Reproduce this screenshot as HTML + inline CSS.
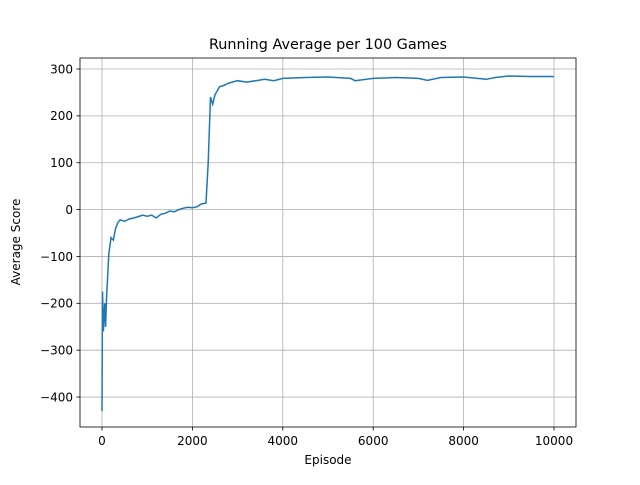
<!DOCTYPE html>
<html><head><meta charset="utf-8"><style>body{margin:0;background:#fff}svg{font-family:"DejaVu Sans","Liberation Sans",sans-serif}</style></head>
<body>
<svg id="chart" width="640" height="480">
<rect width="640" height="480" fill="#fff"/>
<g id="grid"></g>
<g id="axes"></g>
<path id="line" fill="none" stroke="#1f77b4" stroke-width="1.5"/>
<rect x="80" y="58" width="496" height="369" fill="none" stroke="#000" stroke-width="0.8"/>
<text x="328" y="49" text-anchor="middle" font-size="14.4">Running Average per 100 Games</text>
<text x="328" y="464" text-anchor="middle" font-size="12">Episode</text>
<text x="20" y="242" text-anchor="middle" font-size="12" transform="rotate(-90 20 242)">Average Score</text>
</svg>
<script>
const episodes=[0,10,30,60,80,100,150,200,250,300,350,400,500,600,700,800,900,1000,1100,1200,1300,1400,1500,1600,1700,1800,1900,2000,2100,2200,2300,2350,2400,2450,2500,2600,2700,2800,3000,3200,3400,3600,3800,4000,4500,5000,5500,5600,6000,6500,7000,7200,7500,8000,8500,8700,9000,9500,10000];
const scores=[-430,-175,-260,-200,-250,-190,-95,-60,-65,-40,-28,-22,-25,-20,-18,-15,-12,-14,-12,-18,-10,-8,-3,-5,0,3,5,4,6,12,14,100,240,225,245,262,265,270,275,272,275,278,275,280,282,283,280,275,280,282,280,276,282,283,278,282,285,284,284];
const xTicks=[0,2000,4000,6000,8000,10000];
const yTicks=[-400,-300,-200,-100,0,100,200,300];
const NS="http://www.w3.org/2000/svg";
function xs(v){return 102+v*0.0452;}
function ys(v){return 209.6-v*0.4686;}
const grid=document.getElementById('grid'),axes=document.getElementById('axes');
function mk(p,tag,at){const e=document.createElementNS(NS,tag);for(const k in at)e.setAttribute(k,at[k]);p.appendChild(e);return e;}
xTicks.forEach(t=>{const x=xs(t);
const g=mk(grid,'line',{x1:x,x2:x,y1:58,y2:427,stroke:'#b0b0b0','stroke-width':0.8});


mk(axes,'line',{x1:x,x2:x,y1:427,y2:430.5,stroke:'#000','stroke-width':0.8});
const l=mk(axes,'text',{x:x,y:445,'text-anchor':'middle','font-size':12});l.textContent=t;

});
yTicks.forEach(t=>{const y=ys(t);
const g=mk(grid,'line',{x1:80,x2:576,y1:y,y2:y,stroke:'#b0b0b0','stroke-width':0.8});


mk(axes,'line',{x1:76.5,x2:80,y1:y,y2:y,stroke:'#000','stroke-width':0.8});
const l=mk(axes,'text',{x:73,y:y+4.3,'text-anchor':'end','font-size':12});l.textContent=t<0?'\u2212'+(-t):t;

});
document.getElementById('line').setAttribute('d',episodes.map((e,i)=>(i?'L':'M')+xs(e).toFixed(1)+','+ys(scores[i]).toFixed(1)).join(''));
</script>
</body></html>
